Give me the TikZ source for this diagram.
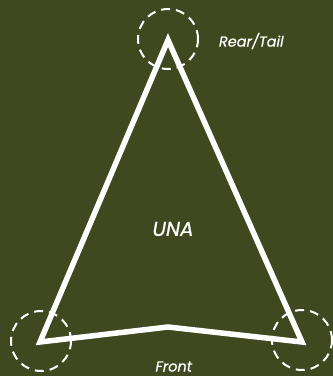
\documentclass[tikz,border=0pt]{standalone}
\usepackage{fontspec}
\usepackage{tikz}
\usetikzlibrary{positioning}
\newfontfamily\labelfont{Poppins}[FakeSlant=0.18, FakeBold=0.8]
\definecolor{myOlive}{RGB}{63,72,31}
\colorlet{mLine}{white}

\begin{document}
\begin{tikzpicture}[
  x=1pt, y=-1pt,
  ring/.style={circle, draw=mLine, line width=2pt, dash pattern=on 9pt off 6pt,
               minimum size=60pt, inner sep=0pt},
  lbl/.style={font=\labelfont\fontsize{14.5}{16}\selectfont, text=mLine, inner sep=0pt},
]
  \fill[myOlive] (0,0) rectangle (333,376);
  \useasboundingbox (0,0) rectangle (333,376);
  % corners of the sail
  \coordinate (tail) at (168,40);
  \coordinate (left) at (40,342);
  \coordinate (right) at (302,342);
  \coordinate (mid) at (168,327);
  \draw[mLine, line width=5.5pt, line join=miter]
    (tail) -- (left) -- (mid) -- (right) -- cycle;
  % dashed rings
  \node[ring] (tailring) at (168,39) {};
  \node[ring] (leftring) at (41,341) {};
  \node[ring] (rightring) at (302,340) {};
  % labels
  \node[lbl, anchor=west] (reartxt) at (218,41) {Rear/Tail};
  \node[lbl, font=\labelfont\fontsize{20}{22}\selectfont] (una) at (172,229) {UNA};
  \node[lbl, anchor=base] (front) at (173,371.5) {Front};
\end{tikzpicture}
\end{document}
